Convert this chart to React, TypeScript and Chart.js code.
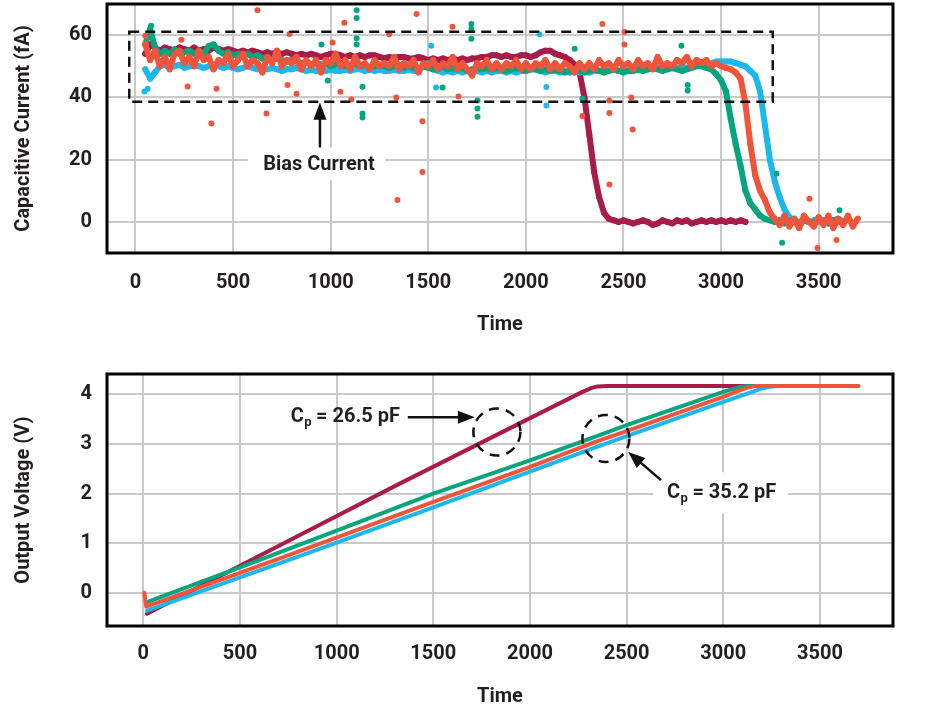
import React, { useEffect, useRef } from 'react';
import { Chart, registerables } from 'chart.js';

Chart.register(...registerables);

const TEXT = '#231f20';
const FONT = 'Roboto';
const CRIMSON = '#a81c48';
const GREEN = '#05a67d';
const CYAN = '#1cb8ec';
const ORANGE = '#f0553b';
const GRID = '#c9c9c9';

const xTickValues = [0, 500, 1000, 1500, 2000, 2500, 3000, 3500];
const currentTickValues = [0, 20, 40, 60];
const voltageTickValues = [0, 1, 2, 3, 4];

// ---- Top chart: capacitive current (fA) vs time ----
const currentTime = [
  50, 75, 100, 125, 150, 175, 200, 225, 250, 275,
  300, 325, 350, 375, 400, 425, 450, 475, 500, 525,
  550, 575, 600, 625, 650, 675, 700, 725, 750, 775,
  800, 825, 850, 875, 900, 925, 950, 975, 1000, 1025,
  1050, 1075, 1100, 1125, 1150, 1175, 1200, 1225, 1250, 1275,
  1300, 1325, 1350, 1375, 1400, 1425, 1450, 1475, 1500, 1525,
  1550, 1575, 1600, 1625, 1650, 1675, 1700, 1725, 1750, 1775,
  1800, 1825, 1850, 1875, 1900, 1925, 1950, 1975, 2000, 2025,
  2050, 2075, 2100, 2125, 2150, 2175, 2200, 2225, 2250, 2275,
  2300, 2325, 2350, 2375, 2400, 2425, 2450, 2475, 2500, 2525,
  2550, 2575, 2600, 2625, 2650, 2675, 2700, 2725, 2750, 2775,
  2800, 2825, 2850, 2875, 2900, 2925, 2950, 2975, 3000, 3025,
  3050, 3075, 3100, 3125, 3150, 3175, 3200, 3225, 3250, 3275,
  3300, 3325, 3350, 3375, 3400, 3425, 3450, 3475, 3500, 3525,
  3550, 3575, 3600, 3625, 3650, 3675, 3700,
];

const crimsonCurrent = [
  54, 57, 56, 55, 56, 55.5, 55, 56, 55.5, 55,
  56, 55, 55.5, 55, 56, 55.5, 55, 55.5, 55, 54.5,
  55, 54.5, 55, 54.5, 54, 54.5, 54, 54.5, 54, 54.5,
  54, 53.5, 54, 53.5, 54, 53.5, 53, 53.5, 54, 54,
  53.5, 53, 53.5, 53, 53.5, 53, 53.5, 53.5, 53, 52.5,
  53, 52.5, 53, 53, 52.5, 52.5, 53, 52.5, 52, 52.5,
  52, 52.5, 52, 52.5, 52, 52.5, 52, 52.5, 52.5, 53,
  53, 53.5, 53.5, 53, 53.5, 53, 53, 53.5, 53.5, 53,
  53.5, 54.5, 55, 55, 54, 53.5, 53, 52, 50.5, 48,
  40, 28, 16, 8, 3, 1, 0.5, 0, 0.5, 0,
  -0.5, 0, 0.5, 0, -1, -0.5, 0.5, 0, -0.5, 0.5,
  0, 0.5, -0.5, 0, 0.5, 0, 0.5, 0, 0.5, 0,
  0.5, 0, 0.5, 0, null, null, null, null, null, null,
  null, null, null, null, null, null, null, null, null, null,
  null, null, null, null, null, null, null,
];

const greenCurrent = [
  57, 62, 56, 54, 55, 54, 55.5, 54, 54.5, 55,
  54, 55, 54, 56.5, 57, 55, 54, 54.5, 53.5, 54,
  53.5, 54, 53, 53.5, 52.5, 53, 52, 52.5, 52, 51.5,
  52, 51.5, 51, 51.5, 50.5, 51, 50.5, 51, 50, 50.5,
  51, 50, 50.5, 51, 50, 50.5, 49.5, 50, 50.5, 50,
  49.5, 50, 50.5, 49.5, 50, 49.5, 49, 50, 49.5, 49,
  49.5, 50, 49, 49.5, 49, 49.5, 48.5, 49, 49.5, 49,
  49.5, 49, 49.5, 49, 48.5, 49, 49.5, 49, 48.5, 49,
  49, 48.5, 49, 48.5, 49, 48.5, 48, 48.5, 49, 48.5,
  48, 48.5, 49, 48.5, 48, 48.5, 49, 48.5, 48, 48.5,
  48.5, 49, 48.5, 49, 49.5, 49, 48.5, 49, 49.5, 49,
  48.5, 49, 49.5, 50, 50, 49.5, 49, 47.5, 45.5, 42,
  33, 25, 18, 10, 6, 4, 2, 1, 0.5, 0,
  0.5, -0.5, 0, 1, -1, 0.5, 0, -0.5, 1, 0,
  -0.5, 0.5, 1, 0, null, null, null,
];

const cyanCurrent = [
  49, 46, 48, 50, 50.5, 49.5, 50, 50.5, 49.5, 50,
  50.5, 50, 49.5, 50, 50.5, 50, 49.5, 50, 49.5, 49,
  49.5, 50, 49.5, 49, 49.5, 49, 49.5, 49, 48.5, 49,
  49, 49.5, 49, 48.5, 49, 48.5, 49, 48.5, 49, 48.5,
  48.5, 49, 48.5, 49, 49, 48.5, 49, 48.5, 49, 48.5,
  48.5, 49, 48.5, 48.5, 49, 48.5, 48.5, 50, 51, 49,
  48.5, 48, 48.5, 48, 48.5, 48, 48.5, 48, 48.5, 48,
  48.5, 48, 48.5, 48.5, 48, 48.5, 48, 48.5, 48.5, 49,
  49, 48.5, 48, 48.5, 48.5, 48, 48.5, 48, 48.5, 48,
  48.5, 48, 48.5, 48.5, 49, 48.5, 49, 48.5, 49, 48.5,
  49, 49, 49.5, 49, 49.5, 49.5, 49.5, 50, 50, 49.5,
  50, 49.5, 50, 50.5, 50.5, 51, 51, 51.5, 51.5, 51.5,
  51.5, 51, 50.5, 50, 48.5, 47, 42, 31, 20, 13,
  8, 4, 1.5, 0.5, 0, 0.5, 0, 0.5, 0, 0.5,
  0, 0.5, 0, null, null, null, null,
];

const orangeCurrent = [
  57, 52, 55, 50, 53, 49, 54, 55, 51, 53,
  50, 55, 52, 53, 49, 52, 51, 54, 50, 52,
  54, 50, 52, 51, 48, 53, 51, 55, 50, 52,
  51, 53, 49, 52, 50, 52, 48, 52, 51, 54,
  50, 52, 49, 53, 50, 51, 49, 52, 50, 51,
  50, 53, 49, 51, 50, 52, 48, 51, 50, 52,
  49, 51, 50, 53, 49, 51, 49, 47, 51, 50,
  52, 49, 51, 49, 51, 50, 52, 49, 51, 49,
  51, 50, 52, 49, 51, 49, 51, 50, 48, 51,
  49, 51, 49, 52, 50, 51, 49, 52, 50, 51,
  49, 52, 50, 51, 49, 53, 50, 51, 50, 52,
  51, 53, 50, 52, 51, 52, 50, 51, 50, 49.5,
  49, 48, 46, 38, 25, 15, 10, 7, 3, 1,
  -1, 2, -1.5, 1, -2, 2, 0, -1.5, 1.5, -1,
  2, -2, 1, -1, 2, -1.5, 1,
];

// scattered outlier samples
const orangeSpikeTime = [50, 54, 235, 267, 389, 415, 625, 671, 779, 789, 825, 1010, 1050, 1070, 1106, 1300, 1336, 1342, 1440, 1470, 1470, 1624, 1655, 2290, 2392, 2428, 2428, 2428, 2505, 2505, 2540, 2547, 3453, 3494, 3591];
const orangeSpikeCurrent = [59.8, 57, 58.5, 43.5, 31.6, 42.8, 68, 34.8, 44, 60.4, 41.2, 57.6, 41.8, 64, 39.3, 60.3, 40, 7, 66.8, 16, 32.3, 62.7, 40.3, 34, 63.6, 35, 12, 39, 61, 57, 40, 29.7, 7.4, -8.4, -5.8];
const greenSpikeTime = [75, 80, 953, 985, 1133, 1133, 1133, 1133, 1163, 1163, 1163, 1573, 1721, 1721, 1721, 1752, 1752, 1752, 2250, 2290, 2797, 2829, 2829, 3284, 3313, 3607];
const greenSpikeCurrent = [61.5, 63, 57, 45.4, 68, 65.5, 59, 57, 43.4, 34.8, 33.5, 43.2, 63.6, 62, 58.8, 39, 36.4, 33.8, 55.6, 39.6, 56.6, 42.2, 44, 15.5, -6.7, 3.7];
const cyanSpikeTime = [46, 62, 1515, 1540, 2070, 2105, 2105];
const cyanSpikeCurrent = [41.9, 42.8, 56.6, 43.2, 60.3, 43.3, 37.4];

// ---- Bottom chart: output voltage (V) vs time ----
const crimsonVoltTime = [19, 757, 1326, 1980, 2256, 2290, 2320, 2350, 2400, 3140];
const crimsonVolt = [-0.42, 1.06, 2.2, 3.48, 4.02, 4.08, 4.13, 4.16, 4.17, 4.17];
const greenVoltTime = [19, 500, 844, 1500, 2000, 2360, 2500, 3000, 3050, 3090, 3130, 3630];
const greenVolt = [-0.19, 0.51, 1.02, 2.0, 2.67, 3.18, 3.38, 4.05, 4.11, 4.15, 4.17, 4.17];
const cyanVoltTime = [19, 500, 844, 1500, 2000, 2360, 2500, 3000, 3150, 3200, 3250, 3300, 3640];
const cyanVolt = [-0.36, 0.31, 0.79, 1.72, 2.44, 2.96, 3.16, 3.85, 4.05, 4.12, 4.16, 4.17, 4.17];
const orangeVoltTime = [5, 15, 500, 844, 1500, 2000, 2360, 2500, 3000, 3070, 3120, 3170, 3700];
const orangeVolt = [0, -0.28, 0.4, 0.89, 1.83, 2.54, 3.07, 3.26, 3.95, 4.06, 4.13, 4.17, 4.17];

// annotation anchors (data units)
const biasWindow = { t0: -32, t1: 3265, lo: 38.6, hi: 61.1 };
const biasLabel = { t: 940, i: 18.2, boxT0: 576, boxT1: 1278, boxLo: 13.4, boxHi: 23.9, arrowT: 945 };
const cp1 = { circleT: 1829, circleV: 3.24, arrowT0: 1368, arrowT1: 1715, v: 3.54, textRightT: 1327, value: '26.5' };
const cp2 = { circleT: 2393, circleV: 3.11, arrowT0: 2678, arrowV0: 2.27, arrowT1: 2508, arrowV1: 2.84, textLeftT: 2709, v: 2.01, boxT0: 2637, boxT1: 3335, boxLo: 1.6, boxHi: 2.43, value: '35.2' };

const toPoints = (xs: number[], ys: (number | null)[]) =>
  xs.map((x, i) => ({ x, y: ys[i] })).filter((p) => p.y !== null && p.y !== undefined);

const lineSet = (data: any[], color: string, width: number, order: number, dot = 0) => ({
  data,
  showLine: true,
  borderColor: color,
  backgroundColor: color,
  borderWidth: width,
  pointRadius: dot,
  pointBorderWidth: 0,
  borderJoinStyle: 'round',
  borderCapStyle: 'round',
  tension: 0,
  order,
});

const dotSet = (data: any[], color: string, order: number) => ({
  data,
  showLine: false,
  backgroundColor: color,
  borderColor: color,
  borderWidth: 0,
  pointRadius: 3,
  order,
});

const framePlugin = {
  id: 'frame',
  afterDraw(chart: any) {
    const { ctx, chartArea: a } = chart;
    ctx.save();
    ctx.setLineDash([]);
    ctx.strokeStyle = '#000';
    ctx.lineWidth = 3;
    ctx.strokeRect(a.left, a.top, a.right - a.left, a.bottom - a.top);
    ctx.restore();
  },
};

function drawArrow(ctx: CanvasRenderingContext2D, x1: number, y1: number, x2: number, y2: number) {
  const head = 17;
  const half = 6.5;
  const ang = Math.atan2(y2 - y1, x2 - x1);
  const bx = x2 - head * Math.cos(ang);
  const by = y2 - head * Math.sin(ang);
  ctx.setLineDash([]);
  ctx.lineWidth = 2.5;
  ctx.strokeStyle = '#111';
  ctx.fillStyle = '#111';
  ctx.beginPath();
  ctx.moveTo(x1, y1);
  ctx.lineTo(bx + 2 * Math.cos(ang), by + 2 * Math.sin(ang));
  ctx.stroke();
  ctx.beginPath();
  ctx.moveTo(x2, y2);
  ctx.lineTo(bx + half * Math.sin(ang), by - half * Math.cos(ang));
  ctx.lineTo(bx - half * Math.sin(ang), by + half * Math.cos(ang));
  ctx.closePath();
  ctx.fill();
}

function drawCp(ctx: CanvasRenderingContext2D, x: number, y: number, value: string, align: 'left' | 'right') {
  const main = `bold 20px ${FONT}`;
  const sub = `bold 13px ${FONT}`;
  const rest = ` = ${value} pF`;
  ctx.font = main;
  const wC = ctx.measureText('C').width;
  const wR = ctx.measureText(rest).width;
  ctx.font = sub;
  const wp = ctx.measureText('p').width;
  const total = wC + wp + wR;
  const x0 = align === 'right' ? x - total : x;
  ctx.fillStyle = TEXT;
  ctx.textAlign = 'left';
  ctx.textBaseline = 'middle';
  ctx.font = main;
  ctx.fillText('C', x0, y);
  ctx.font = sub;
  ctx.fillText('p', x0 + wC + 0.5, y + 6);
  ctx.font = main;
  ctx.fillText(rest, x0 + wC + wp, y);
}

function dashedCircle(ctx: CanvasRenderingContext2D, cx: number, cy: number, r: number) {
  ctx.save();
  ctx.strokeStyle = '#111';
  ctx.lineWidth = 2.5;
  ctx.setLineDash([10, 7]);
  ctx.beginPath();
  ctx.arc(cx, cy, r, 0, Math.PI * 2);
  ctx.stroke();
  ctx.restore();
}

const topAnnotations = {
  id: 'topAnnotations',
  afterDraw(chart: any) {
    const { ctx } = chart;
    const X = (v: number) => chart.scales.x.getPixelForValue(v);
    const Y = (v: number) => chart.scales.y.getPixelForValue(v);
    ctx.save();
    ctx.strokeStyle = '#111';
    ctx.lineWidth = 2.5;
    ctx.setLineDash([10, 6]);
    ctx.strokeRect(X(biasWindow.t0), Y(biasWindow.hi), X(biasWindow.t1) - X(biasWindow.t0), Y(biasWindow.lo) - Y(biasWindow.hi));
    ctx.fillStyle = '#fff';
    ctx.fillRect(X(biasLabel.boxT0), Y(biasLabel.boxHi), X(biasLabel.boxT1) - X(biasLabel.boxT0), Y(biasLabel.boxLo) - Y(biasLabel.boxHi));
    drawArrow(ctx, X(biasLabel.arrowT), Y(biasLabel.boxHi), X(biasLabel.arrowT), Y(biasWindow.lo) + 1);
    ctx.fillStyle = TEXT;
    ctx.font = `bold 20px ${FONT}`;
    ctx.textAlign = 'center';
    ctx.textBaseline = 'middle';
    ctx.fillText('Bias Current', X(biasLabel.t), Y(biasLabel.i));
    ctx.restore();
  },
};

const bottomAnnotations = {
  id: 'bottomAnnotations',
  afterDraw(chart: any) {
    const { ctx } = chart;
    const X = (v: number) => chart.scales.x.getPixelForValue(v);
    const Y = (v: number) => chart.scales.y.getPixelForValue(v);
    ctx.save();
    dashedCircle(ctx, X(cp1.circleT), Y(cp1.circleV), 23.5);
    dashedCircle(ctx, X(cp2.circleT), Y(cp2.circleV), 23.5);
    drawArrow(ctx, X(cp1.arrowT0), Y(cp1.v), X(cp1.arrowT1), Y(cp1.v));
    drawCp(ctx, X(cp1.textRightT), Y(cp1.v), cp1.value, 'right');
    ctx.fillStyle = '#fff';
    ctx.fillRect(X(cp2.boxT0), Y(cp2.boxHi), X(cp2.boxT1) - X(cp2.boxT0), Y(cp2.boxLo) - Y(cp2.boxHi));
    drawArrow(ctx, X(cp2.arrowT0), Y(cp2.arrowV0), X(cp2.arrowT1), Y(cp2.arrowV1));
    drawCp(ctx, X(cp2.textLeftT), Y(cp2.v), cp2.value, 'left');
    ctx.restore();
  },
};

const tickFont = { family: FONT, size: 20, weight: 'bold' as const };
const titleFont = { family: FONT, size: 20, weight: 'bold' as const };

function makeScales(opts: {
  xMin: number; xMax: number; yMin: number; yMax: number; yTicks: number[];
  yTitle: string; xAxisHeight: number; xTickPad: number; xTitlePad: number;
}) {
  return {
    x: {
      type: 'linear',
      min: opts.xMin,
      max: opts.xMax,
      afterBuildTicks: (s: any) => { s.ticks = xTickValues.map((v) => ({ value: v })); },
      afterFit: (s: any) => { s.height = opts.xAxisHeight; s.paddingLeft = 0; s.paddingRight = 0; },
      ticks: { font: tickFont, color: TEXT, padding: opts.xTickPad, maxRotation: 0, autoSkip: false, callback: (v: any) => String(v) },
      grid: { color: GRID, lineWidth: 2, drawTicks: false },
      border: { display: false },
      title: { display: true, text: 'Time', font: titleFont, color: TEXT, padding: { top: 0, bottom: opts.xTitlePad } },
    },
    y: {
      type: 'linear',
      min: opts.yMin,
      max: opts.yMax,
      afterBuildTicks: (s: any) => { s.ticks = opts.yTicks.map((v) => ({ value: v })); },
      afterFit: (s: any) => { s.width = 107; s.paddingTop = 0; s.paddingBottom = 0; },
      ticks: { font: tickFont, color: TEXT, padding: 15, autoSkip: false, callback: (v: any) => String(v) },
      grid: { color: GRID, lineWidth: 2, drawTicks: false },
      border: { display: false },
      title: { display: true, text: opts.yTitle, font: titleFont, color: TEXT, padding: { top: 12, bottom: 0 } },
    },
  };
}

export default function App() {
  const topRef = useRef<HTMLCanvasElement>(null);
  const bottomRef = useRef<HTMLCanvasElement>(null);

  useEffect(() => {
    const topChart = new Chart(topRef.current as HTMLCanvasElement, {
      type: 'scatter',
      data: {
        datasets: [
          dotSet(toPoints(orangeSpikeTime, orangeSpikeCurrent), ORANGE, 0),
          dotSet(toPoints(greenSpikeTime, greenSpikeCurrent), GREEN, 1),
          dotSet(toPoints(cyanSpikeTime, cyanSpikeCurrent), CYAN, 2),
          lineSet(toPoints(currentTime, orangeCurrent), ORANGE, 6, 3, 3),
          lineSet(toPoints(currentTime, greenCurrent), GREEN, 6, 4, 3),
          lineSet(toPoints(currentTime, cyanCurrent), CYAN, 6, 5, 3),
          lineSet(toPoints(currentTime, crimsonCurrent), CRIMSON, 6, 6, 3),
        ] as any,
      },
      options: {
        responsive: false,
        animation: false,
        events: [],
        layout: { padding: { left: 0, right: 33, top: 3, bottom: 0 } },
        plugins: { legend: { display: false }, tooltip: { enabled: false } },
        scales: makeScales({
          xMin: -146, xMax: 3881, yMin: -10, yMax: 70, yTicks: currentTickValues,
          yTitle: 'Capacitive Current (fA)', xAxisHeight: 102, xTickPad: 18, xTitlePad: 18,
        }) as any,
      },
      plugins: [topAnnotations, framePlugin],
    });

    const bottomChart = new Chart(bottomRef.current as HTMLCanvasElement, {
      type: 'scatter',
      data: {
        datasets: [
          lineSet(toPoints(orangeVoltTime, orangeVolt), ORANGE, 4, 0),
          lineSet(toPoints(greenVoltTime, greenVolt), GREEN, 4, 1),
          lineSet(toPoints(cyanVoltTime, cyanVolt), CYAN, 4, 2),
          lineSet(toPoints(crimsonVoltTime, crimsonVolt), CRIMSON, 4, 3),
        ] as any,
      },
      options: {
        responsive: false,
        animation: false,
        events: [],
        layout: { padding: { left: 0, right: 33, top: 19, bottom: 0 } },
        plugins: { legend: { display: false }, tooltip: { enabled: false } },
        scales: makeScales({
          xMin: -188, xMax: 3878, yMin: -0.67, yMax: 4.41, yTicks: voltageTickValues,
          yTitle: 'Output Voltage (V)', xAxisHeight: 83, xTickPad: 16, xTitlePad: 0,
        }) as any,
      },
      plugins: [bottomAnnotations, framePlugin],
    });

    return () => {
      topChart.destroy();
      bottomChart.destroy();
    };
  }, []);

  return (
    <div style={{ position: 'absolute', left: 0, top: 0, width: 926, height: 709, background: '#fff', overflow: 'hidden' }}>
      <canvas ref={topRef} width={926} height={355} style={{ position: 'absolute', left: 0, top: 0, width: 926, height: 355 }} />
      <canvas ref={bottomRef} width={926} height={354} style={{ position: 'absolute', left: 0, top: 355, width: 926, height: 354 }} />
    </div>
  );
}
